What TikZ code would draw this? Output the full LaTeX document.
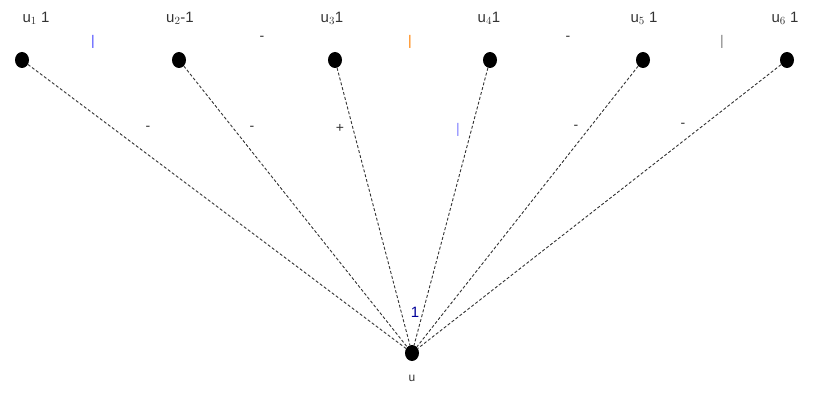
\documentclass[tikz,border=0pt]{standalone}
\usepackage{fontspec}
\usetikzlibrary{shapes.geometric}
\setmainfont{Liberation Sans}
\begin{document}
\begin{tikzpicture}[x=1pt,y=-1pt,
  dot/.style={ellipse,fill=black,inner sep=0pt,minimum width=14pt,minimum height=16pt},
  edge/.style={draw=black!80,densely dashed,line width=0.9pt},
  lab/.style={font=\fontsize{15}{17}\selectfont,text=black!80},
  tick/.style={font=\fontsize{14}{16}\selectfont,text=black!80}]
\useasboundingbox (0,0) rectangle (819,393);
\node[dot] (a1) at (22,60) {};
\node[dot] (a2) at (179,60) {};
\node[dot] (a3) at (335,60) {};
\node[dot] (a4) at (490,60) {};
\node[dot] (a5) at (643,60) {};
\node[dot] (a6) at (787,60) {};
\node[dot] (u) at (412,353) {};
\foreach \i in {1,...,6} \draw[edge] (a\i) -- (u);
\node[lab] (l1) at (36,18) {u$_1$ 1};
\node[lab] (l2) at (180,18) {u$_2$-1};
\node[lab] (l3) at (332,18) {u$_3$1};
\node[lab] (l4) at (489,18) {u$_4$1};
\node[lab] (l5) at (644,18) {u$_5$ 1};
\node[lab] (l6) at (785,18) {u$_6$ 1};
\node[tick,text=blue!70] (m1) at (93,42) {|};
\node[tick] (m2) at (262,38) {-};
\node[tick,text=orange] (m3) at (410,42) {|};
\node[tick] (m4) at (568,38) {-};
\node[tick,text=black!50] (m5) at (722,42) {|};
\node[tick] (e1) at (148,128) {-};
\node[tick] (e2) at (252,128) {-};
\node[tick] (e3) at (340,128) {+};
\node[tick,text=blue!50] (e4) at (458,130) {|};
\node[tick] (e5) at (576,127) {-};
\node[tick] (e6) at (683,125) {-};
\node[lab,text=blue!60!black] (one) at (415,312) {1};
\node[lab,font=\fontsize{12}{14}\selectfont] (ul) at (412,378) {u};
\end{tikzpicture}
\end{document}
